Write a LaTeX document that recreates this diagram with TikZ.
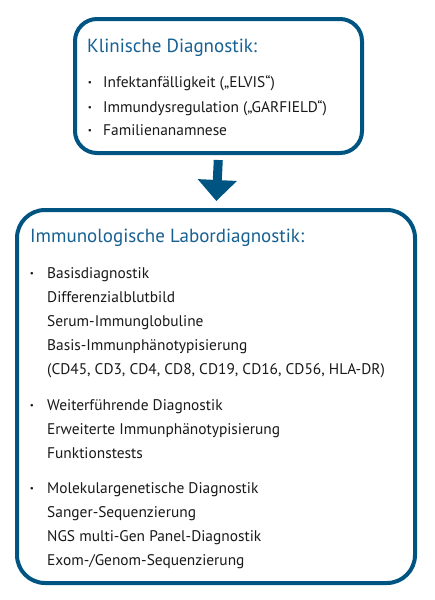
\documentclass[tikz,border=0pt]{standalone}
\usepackage{fontspec}
\setmainfont{PT Sans}
\usepackage{tikz}
\usetikzlibrary{arrows.meta,positioning}
\usepackage{xcolor}
\definecolor{boxblue}{RGB}{0,84,130}
\definecolor{titleblue}{RGB}{22,96,146}
\definecolor{itemgray}{RGB}{25,25,25}

\tikzset{
    panel/.style={draw=boxblue, line width=4pt, rounded corners=22pt, fill=white},
    headline/.style={anchor=base west, inner sep=0pt, text=titleblue, font=\fontsize{19}{23}\selectfont},
    itemtext/.style={anchor=base west, inner sep=0pt, text=itemgray, font=\fontsize{15.4}{18}\selectfont},
    dotmark/.style={anchor=base, inner sep=0pt, text=itemgray, font=\fontsize{9}{9}\selectfont},
}

\begin{document}
\begin{tikzpicture}[x=1pt, y=-1pt]
    \useasboundingbox (0,0) rectangle (434,600);

    % Clinical diagnostics box
    \node[panel, minimum width=287pt, minimum height=134pt] (klinik) at (218.5,86) {};
    \node[headline] (klinikTitle) at (87,52) {Klinische Diagnostik:};
    \node[dotmark] (kd1) at (90,85) {•};
    \node[itemtext] (ki1) at (103,87) {Infektanfälligkeit („ELVIS“)};
    \node[dotmark] (kd2) at (90,110) {•};
    \node[itemtext] (ki2) at (103,112) {Immundysregulation („GARFIELD“)};
    \node[dotmark] (kd3) at (90,133) {•};
    \node[itemtext] (ki3) at (103,135) {Familienanamnese};

    % Lab diagnostics box
    \node[panel, rounded corners=28pt, minimum width=398pt, minimum height=373pt] (labor) at (216,396.5) {};
    \node[headline] (laborTitle) at (30,242) {Immunologische Labordiagnostik:};

    % Basic diagnostics
    \node[dotmark] (ld1) at (32,276) {•};
    \node[itemtext] (basis) at (47,278) {Basisdiagnostik};
    \node[itemtext] (diff) at (47,302) {Differenzialblutbild};
    \node[itemtext] (serum) at (47,326) {Serum-Immunglobuline};
    \node[itemtext] (phaeno) at (47,350) {Basis-Immunphänotypisierung};
    \node[itemtext] (marker) at (47,374) {(CD45, CD3, CD4, CD8, CD19, CD16, CD56, HLA-DR)};

    % Further diagnostics
    \node[dotmark] (ld2) at (32,408) {•};
    \node[itemtext] (weiter) at (47,410) {Weiterführende Diagnostik};
    \node[itemtext] (erweitert) at (47,434) {Erweiterte Immunphänotypisierung};
    \node[itemtext] (funktion) at (47,458) {Funktionstests};

    % Molecular genetics
    \node[dotmark] (ld3) at (32,491) {•};
    \node[itemtext] (molekular) at (47,493) {Molekulargenetische Diagnostik};
    \node[itemtext] (sanger) at (47,517) {Sanger-Sequenzierung};
    \node[itemtext] (ngs) at (47,541) {NGS multi-Gen Panel-Diagnostik};
    \node[itemtext] (exom) at (47,565) {Exom-/Genom-Sequenzierung};

    % Block arrow between the boxes
    \draw[boxblue, line width=9pt, shorten <=5pt, shorten >=7pt,
          -{Triangle[width=38pt, length=21pt]}] (klinik.south) -- (labor.north);
\end{tikzpicture}
\end{document}
